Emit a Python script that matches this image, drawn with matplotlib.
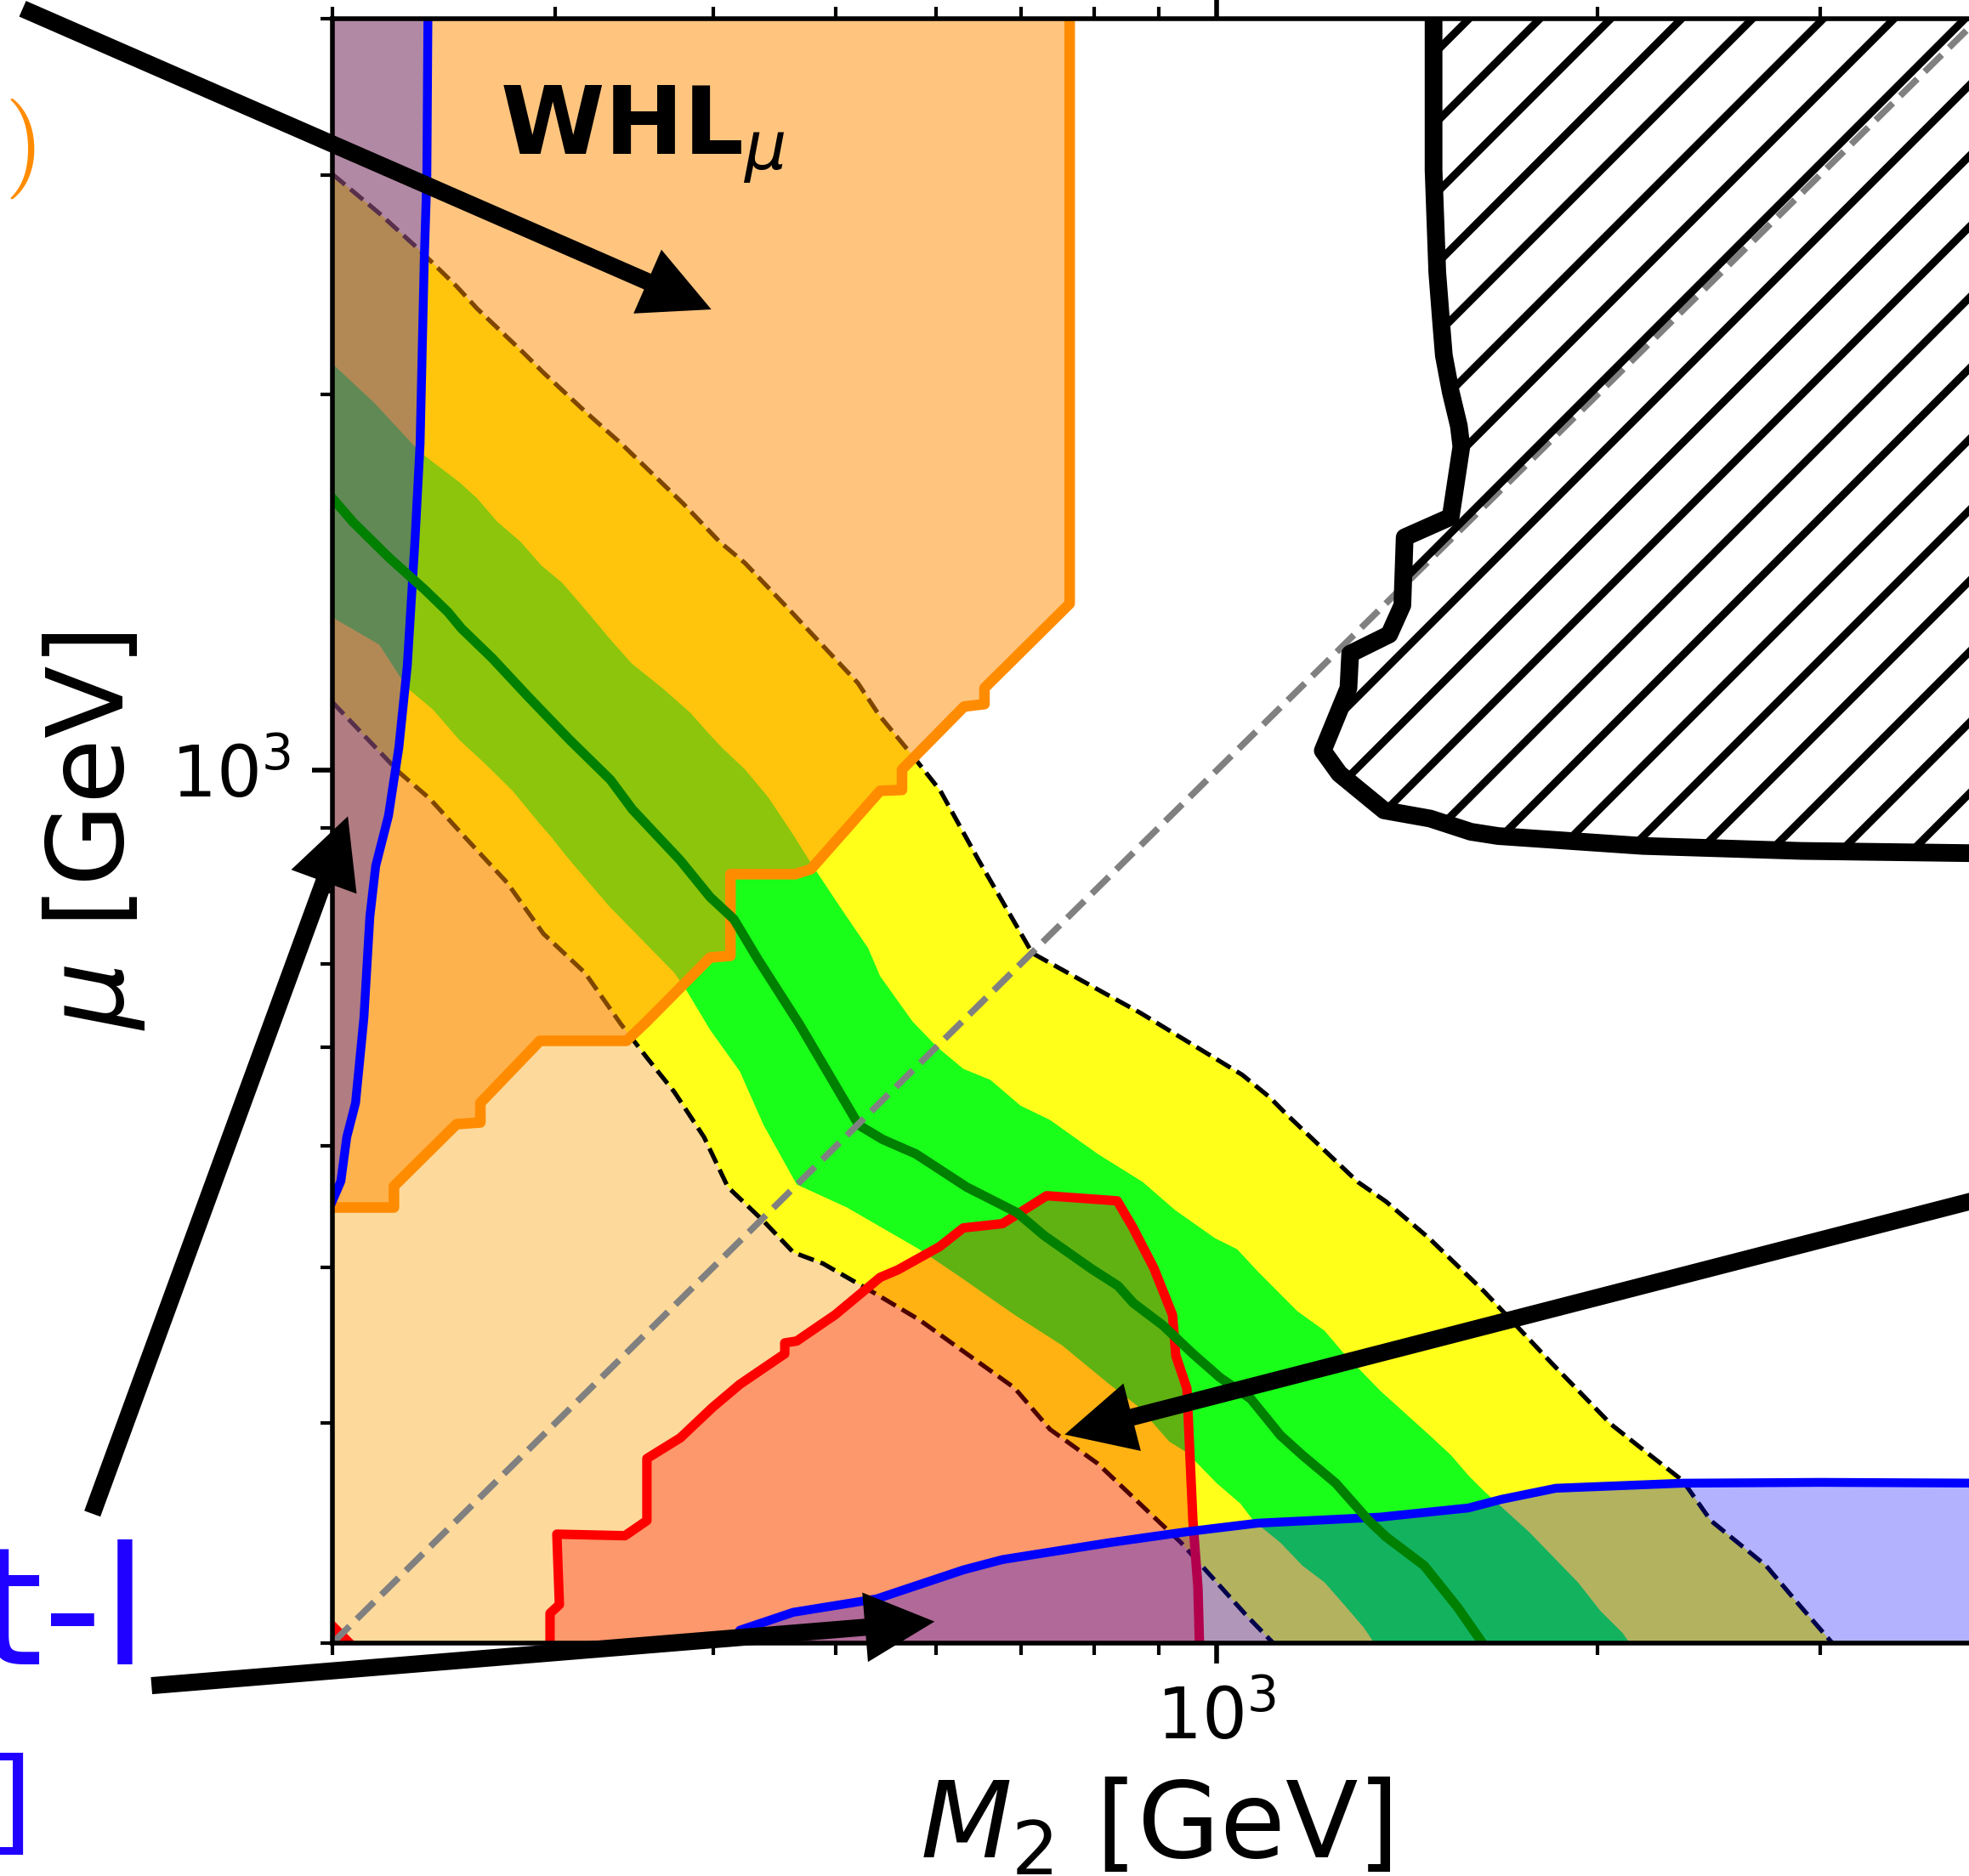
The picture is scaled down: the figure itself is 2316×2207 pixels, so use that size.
import matplotlib
matplotlib.use("Agg")
import matplotlib.pyplot as plt
from matplotlib.ticker import NullFormatter

plt.rcParams['hatch.linewidth'] = 1.3

# ---------------- data (GeV) ----------------
XMIN, XMAX = 200, 4000
YMIN, YMAX = 200, 4000

# 2-sigma (yellow) band, dashed boundaries
band2_up_m2 = [200, 217.8, 233.5, 250.7, 260.2, 282.8, 294.0, 316.7, 338.5, 378.4, 404.5, 423.7, 461.3, 483.2,
               520.4, 541.1, 577.4, 604.8, 648.5, 714.9, 815.3, 870.1, 1047.6, 1101, 1135, 1293, 1361, 1472,
               1628, 1837, 2050, 2158, 2335, 2458, 2718, 2886, 3120]
band2_up_mu = [3003, 2794, 2620, 2442, 2344, 2163, 2080, 1939, 1826, 1637, 1525, 1466, 1339, 1273,
               1175, 1107, 1022, 963, 847.1, 713.9, 663.1, 639.5, 570.4, 547.4, 530.6, 468.1, 451.5, 422.0,
               382.3, 335.7, 299.4, 287.3, 269.9, 250.7, 230.7, 214.7, 196]
band2_lo_m2 = [200, 226.1, 238.7, 254.7, 274.8, 293.6, 316.7, 338.0, 354.5, 372.6, 393.3, 410.8, 438.4,
               462.8, 488.5, 538.5, 581.9, 620.9, 692.1, 738.4, 805.3, 878.1, 937.2, 1000, 1056, 1130]
band2_lo_mu = [1134, 995.4, 949.5, 883.6, 813.2, 740.0, 688.5, 626.6, 588.7, 552.7, 508.6, 463.7, 435.5,
               411.1, 402.7, 380.5, 363.1, 346.4, 320.2, 296.6, 278.5, 256.2, 240.7, 223.7, 210.4, 196]

# 1-sigma (green) band
band1_up_m2 = [200, 215.8, 234.6, 251.9, 260.2, 270.1, 281.6, 292.6, 303.7, 315.2, 331.7, 344.8, 364.6,
               383.7, 395.2, 406.3, 423.7, 441.8, 462.8, 477.9, 504.7, 530.3, 542.0, 574.8, 601.0, 630.6,
               662.6, 699.5, 738.4, 805.3, 874.1, 927.0, 997, 1038, 1079, 1158, 1217, 1256, 1346, 1481,
               1532, 1581, 1628, 1765, 1854, 1930, 2010, 2093, 2150]
band1_up_mu = [2117, 1970, 1798, 1702, 1652, 1581, 1525, 1459, 1414, 1354, 1273, 1218, 1164,
               1112, 1075, 1043, 1002, 952.5, 887.7, 842.6, 775.4, 720.4, 684.1, 629.5, 600.6, 576.7,
               565.0, 539.0, 524.8, 493.0, 468.1, 444.5, 422.0, 413.5, 396.4, 368.9, 355.8, 342.6, 318.7, 292.0,
               282.8, 272.5, 264.5, 245.6, 233.3, 223.7, 212.3, 203.8, 196]
band1_lo_m2 = [200, 217.8, 229.2, 240.1, 251.9, 263.9, 277.6, 291.3, 298.1, 306.6, 330.7, 349.1, 372.6,
               380.7, 397.7, 419.8, 438.4, 465.6, 510.2, 581.9, 627.7, 692.1, 754.6, 822.8, 868.8, 917.0,
               947.3, 1000, 1044, 1069, 1123, 1169, 1217, 1261, 1307, 1350]
band1_lo_mu = [1326, 1261, 1164, 1119, 1058, 1013, 963.1, 907.6, 883.6, 852.2, 779.1, 736.6, 688.5,
               667.3, 619.8, 574.1, 519.9, 466.0, 446.6, 413.5, 392.6, 366.4, 346.4, 322.3, 308.9, 290.1,
               284.2, 268.6, 258.7, 250.7, 240.7, 230.7, 223.7, 214.7, 205.8, 196]

# central (dark green) line
cen_m2 = [200, 207.6, 221.8, 236.7, 246.8, 253.0, 267.5, 285.5, 308.0, 331.7, 345.3, 376.7, 397.7, 415.3,
          433.7, 467.7, 521.3, 544.5, 578.3, 634.5, 695.3, 730.4, 796.6, 835.6, 859.2, 907.2, 957.6, 1006,
          1064, 1123, 1169, 1242, 1319, 1361, 1459, 1550, 1645]
cen_mu = [1652, 1581, 1480, 1395, 1339, 1299, 1230, 1146, 1058, 982.9, 930.4, 847.1, 791.7, 760.0,
          706.2, 626.6, 519.9, 506.3, 493.0, 463.7, 442.4, 424.1, 398.7, 386.5, 374.5, 359.2, 341.0, 326.4,
          313.8, 293.4, 282.8, 268.6, 250.7, 243.3, 230.7, 213.7, 196]

# red region
red_m2 = [297.2, 297.2, 302.3, 300.9, 340.6, 354.5, 354.5, 376.7, 399.5, 419.8, 455.6, 455.6, 465.6, 499.3,
          542.0, 559.8, 603.9, 630.6, 677.1, 733.8, 834.4, 858.1, 891.9, 922.7, 928.3, 947.3, 957.6, 966.5, 969.6]
red_mu = [196, 211.3, 214.7, 244.5, 243.8, 250.7, 281.1, 292.0, 308.9, 322.3, 341.0, 347.9, 349.1, 366.4,
          392.6, 398.1, 415.5, 430.1, 433.5, 456.4, 452.1, 430.8, 399.4, 366.4, 339.9, 319.8, 250.7, 221.5, 196]
corner_m2 = [200, 205.7]
corner_mu = [205.8, 200]

# WHL_mu (orange) region boundary
whl_m2 = [765.2, 765.2, 655.3, 655.3, 631.5, 564.0, 564.0, 542.0, 477.9, 464.2, 412.7, 412.7, 397.7, 354.5,
          341.6, 291.8, 261.8, 261.8, 250.7, 223.7, 223.7, 200]
whl_mu = [4100, 1360, 1164, 1130, 1125, 1001.6, 964.6, 963.1, 833.6, 825.8, 825.8, 710.4, 708.1, 629.5,
          607.3, 607.3, 541.6, 522.4, 520.8, 464.5, 446.6, 446.6]

# blue regions
sl_m2 = [238, 237.5, 236.4, 234.6, 232.4, 229.2, 225.7, 221.5, 216.4, 214.1, 211.8, 208.6, 205.3, 203.1, 200]
sl_mu = [4100, 2984, 2567, 1826, 1525, 1213, 1043, 920, 838.6, 763.4, 633.8, 541.6, 508.6, 468.8, 452]
sb_m2 = [409.5, 419.8, 462.8, 538.5, 630.6, 677.1, 822.8, 947.3, 1077, 1346, 1581, 1679, 1854, 2335, 3001, 4100]
sb_mu = [196, 204.8, 211.7, 217.0, 228.9, 233.3, 240.7, 245.6, 249.5, 252.3, 256.6, 260.7, 266.1, 268.6, 269.0, 268.6]

# hatched region boundary
hatch_m2 = [1484, 1484, 1494, 1505, 1512, 1531, 1554, 1561, 1531, 1408, 1402, 1369, 1275, 1271, 1213, 1250,
            1356, 1475, 1588, 1669, 2171, 2900, 4100]
hatch_mu = [4100, 3026, 2507, 2278, 2150, 2010, 1887, 1817, 1596, 1537, 1356, 1285, 1240, 1164, 1037, 994,
            929, 915, 893, 886, 870, 862, 858]

# arrows: (tail, tip) in data coordinates
arrow_tails = [(113.8, 4074), (129.2, 253.9), (5220, 486), (143.9, 184.9)]
arrow_tips = [(398.6, 2340), (205.7, 918.8), (758.3, 293.8), (598.4, 208.1)]

whl_label_pos = (271.4, 3113)

# ---------------- figure ----------------
W, H, DPI = 2316, 2207, 500
fig = plt.figure(figsize=(W / DPI, H / DPI), dpi=DPI)
ax = fig.add_axes([391 / W, 1 - 1933 / H, 1936 / W, (1933 - 22) / H])
ax.set_xscale('log')
ax.set_yscale('log')
ax.set_xlim(XMIN, XMAX)
ax.set_ylim(YMIN, YMAX)

lo = 150  # far outside lower limits
hi = 6000

# pale region below the 2-sigma band
ax.fill(band2_lo_m2 + [lo, lo], band2_lo_mu + [lo, band2_lo_mu[0]], color='#fdd99b', lw=0, zorder=1)
# yellow band
ax.fill(band2_up_m2 + band2_lo_m2[::-1], band2_up_mu + band2_lo_mu[::-1], color='#ffff1a', lw=0, zorder=1.1)
# green band
ax.fill(band1_up_m2 + band1_lo_m2[::-1], band1_up_mu + band1_lo_mu[::-1], color='#1aff1a', lw=0, zorder=1.2)
# dashed boundaries
ax.plot(band2_up_m2, band2_up_mu, '--', color='black', lw=0.75, zorder=1.3)
ax.plot(band2_lo_m2, band2_lo_mu, '--', color='black', lw=0.75, zorder=1.3)

# red region
ax.fill(red_m2, red_mu, color='red', alpha=0.3, lw=0, zorder=1.5)
ax.plot(red_m2, red_mu, color='red', lw=1.6, zorder=1.55)
ax.plot(corner_m2, corner_mu, color='red', lw=2.0, zorder=1.55)

# orange WHL region
ax.fill(whl_m2 + [lo, lo], whl_mu + [whl_mu[-1], hi], color='darkorange', alpha=0.5, lw=0, zorder=1.6)
ax.plot(whl_m2, whl_mu, color='darkorange', lw=1.8, zorder=1.65)

# blue regions
ax.fill_betweenx(sl_mu, lo, sl_m2, color='blue', alpha=0.3, lw=0, zorder=1.7)
ax.fill_between(sb_m2, lo, sb_mu, color='blue', alpha=0.3, lw=0, zorder=1.7)
ax.plot(sl_m2, sl_mu, color='blue', lw=1.5, zorder=1.8)
ax.plot(sb_m2, sb_mu, color='blue', lw=1.5, zorder=1.8)

# central line
ax.plot(cen_m2, cen_mu, color='green', lw=1.6, zorder=2)

# diagonal mu = M2
ax.plot([XMIN, XMAX], [YMIN, YMAX], '--', color='gray', lw=1.1, zorder=2.1)

# hatched region
ax.fill(hatch_m2 + [hi, hi], hatch_mu + [hatch_mu[-1], hi], facecolor='none', edgecolor='black',
        hatch='//', lw=0, zorder=2.2)
ax.plot(hatch_m2, hatch_mu, color='black', lw=3.0, zorder=2.3)

# label
ax.text(whl_label_pos[0], whl_label_pos[1], r'$\mathbf{WHL}_{\mu}$', fontsize=16, ha='left',
        va='baseline', zorder=4)

# arrows
for tail, tip in zip(arrow_tails, arrow_tips):
    ax.annotate('', xy=tip, xytext=tail, xycoords='data', textcoords='data',
                arrowprops=dict(facecolor='black', edgecolor='black', linewidth=0, width=2.9,
                                headwidth=11.8, headlength=11.8, shrink=0.0),
                annotation_clip=False, zorder=5)

# axes styling
ax.tick_params(which='both', direction='out', top=True, right=True, labelsize=12)
ax.xaxis.set_minor_formatter(NullFormatter())
ax.yaxis.set_minor_formatter(NullFormatter())
ax.set_xlabel(r'$M_2$ [GeV]', fontsize=18)
ax.set_ylabel(r'$\mu$ [GeV]', fontsize=18)
for s in ax.spines.values():
    s.set_zorder(6)

# partially visible labels outside the axes
fig.text(42 / W, 1 - 206 / H, r'$(\mathrm{WHL}_\mu)$', ha='right', va='baseline',
         color='darkorange', fontsize=17, math_fontfamily='cm')
fig.text(174 / W, 1 - 1958 / H, 'Soft-l', ha='right', va='baseline', color='#2000ff', fontsize=27.8)
fig.text(39 / W, 1 - 2165 / H, '[ATLAS]', ha='right', va='baseline', color='#2000ff', fontsize=19.4)

fig.savefig('out.png', dpi=DPI)
